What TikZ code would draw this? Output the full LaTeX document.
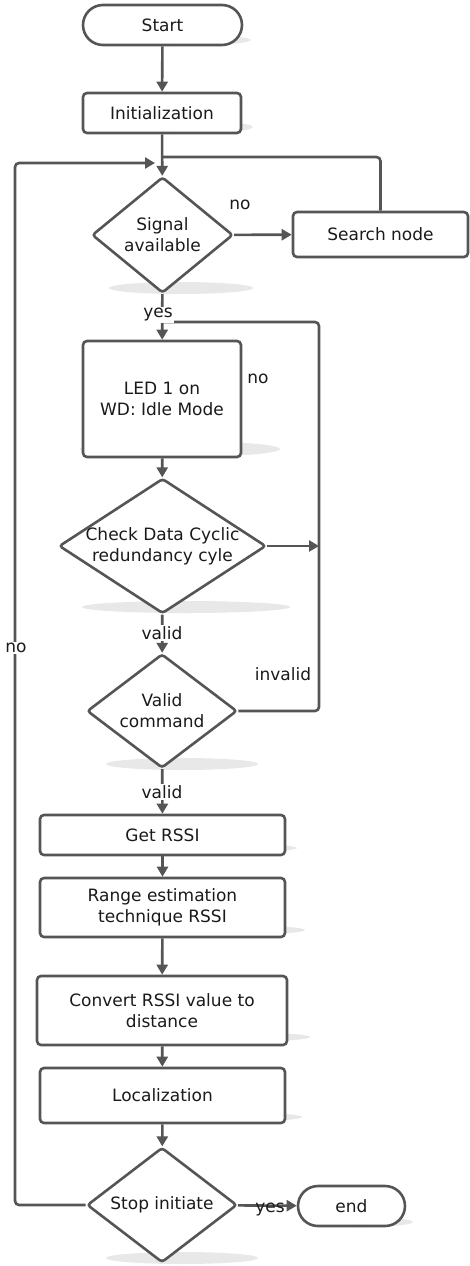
\documentclass[tikz,border=0pt]{standalone}
\usepackage{fontspec}
\setmainfont{DejaVu Sans}
\usetikzlibrary{shapes.geometric,arrows.meta}
\definecolor{ln}{HTML}{555555}
\definecolor{shd}{HTML}{E8E8E8}
\definecolor{txt}{HTML}{1A1A1A}
\begin{document}
\begin{tikzpicture}[x=1pt,y=-1pt,
  every node/.style={font=\fontsize{17}{21}\selectfont, text=txt},
  box/.style={draw=ln, line width=2.6pt, fill=white, rounded corners=4pt, inner sep=0pt, align=center},
  term/.style={draw=ln, line width=2.6pt, fill=white, rounded corners=20pt, inner sep=0pt, minimum height=40pt},
  dec/.style={draw=ln, line width=2.6pt, fill=white, diamond, rounded corners=3pt, inner sep=0pt},
  dtext/.style={align=center, inner sep=0pt},
  lbl/.style={fill=white, inner sep=1pt},
  conn/.style={draw=ln, line width=2.6pt, -{Triangle[length=10pt,width=11pt]}},
  plain/.style={draw=ln, line width=2.6pt, rounded corners=4pt}
]
\useasboundingbox (0,0) rectangle (470,1266);
% shadows
\fill[shd] (172,40) ellipse[x radius=79, y radius=6];
\fill[shd] (172,127) ellipse[x radius=81, y radius=7];
\fill[shd] (181,288) ellipse[x radius=72, y radius=6];
\fill[shd] (180,449) ellipse[x radius=100, y radius=8];
\fill[shd] (186,607) ellipse[x radius=104, y radius=6];
\fill[shd] (182,764) ellipse[x radius=76, y radius=6];
\fill[shd] (175,848) ellipse[x radius=122, y radius=6];
\fill[shd] (183,930) ellipse[x radius=122, y radius=6];
\fill[shd] (188,1037) ellipse[x radius=122, y radius=6];
\fill[shd] (180,1117) ellipse[x radius=122, y radius=6];
\fill[shd] (182,1258) ellipse[x radius=76, y radius=6];
\fill[shd] (360,1222) ellipse[x radius=53, y radius=5];
% nodes
\node[term, minimum width=159pt] (start) at (162.5,25) {Start};
\node[box, minimum width=158pt, minimum height=40pt] (init) at (162,113) {Initialization};
\node[dec, minimum width=141pt, minimum height=116pt] (sig) at (162.5,235) {};
\node[dtext] (sigt) at (sig.center) {Signal\\available};
\node[box, minimum width=175pt, minimum height=45pt] (search) at (380.5,234.5) {Search node};
\node[box, minimum width=158pt, minimum height=116pt] (led) at (162,399) {LED 1 on\\WD: Idle Mode};
\node[dec, minimum width=207pt, minimum height=135pt] (crc) at (162.5,546) {};
\node[dtext] (crct) at (crc.center) {Check Data Cyclic\\redundancy cyle};
\node[dec, minimum width=150pt, minimum height=114pt] (valid) at (162,711) {};
\node[dtext] (validt) at (valid.center) {Valid\\command};
\node[box, minimum width=245pt, minimum height=40pt] (get) at (162.5,835) {Get RSSI};
\node[box, minimum width=245pt, minimum height=59pt] (range) at (162.5,907.5) {Range estimation\\technique RSSI};
\node[box, minimum width=250pt, minimum height=69pt] (conv) at (162,1010.5) {Convert RSSI value to\\distance};
\node[box, minimum width=245pt, minimum height=55pt] (loc) at (162.5,1095.5) {Localization};
\node[dec, minimum width=150pt, minimum height=115pt] (stop) at (162,1205) {};
\node[dtext] (stopt) at (stop.center) {Stop initiate};
\node[term, minimum width=107pt] (end) at (351.5,1206) {end};
% junction coordinates
\coordinate (j1) at (162,157);
\coordinate (j2) at (155,163);
\coordinate (j3) at (162,322);
\coordinate (r1) at (319,322);
\coordinate (r2) at (319,546);
% connectors
\draw[conn] (start) -- (init);
\draw[conn] (init) -- (sig);
\draw[plain] (search.north) |- (j1);
\draw[conn] (sig) -- (search);
\draw[conn] (sig) -- (led);
\draw[plain] (valid.east) -| (r1) -- (j3);
\draw[conn] (crc.east) -- (r2);
\draw[conn] (led) -- (crc);
\draw[conn] (crc) -- (valid);
\draw[conn] (valid) -- (get);
\draw[conn] (get) -- (range);
\draw[conn] (range) -- (conv);
\draw[conn] (conv) -- (loc);
\draw[conn] (loc) -- (stop);
\draw[conn] (stop) -- (end);
\draw[conn, rounded corners=4pt] (stop.west) -| (15,400) |- (j2);
% labels
\node[lbl] (lno1) at (240,205) {no};
\node[lbl] (lyes1) at (158,315) {yes};
\node[lbl, fill=none] (lno2) at (258,379) {no};
\node[lbl] (lval1) at (162,633) {valid};
\node[lbl, fill=none] (linv) at (283,674) {invalid};
\node[lbl] (lno3) at (16,648) {no};
\node[lbl] (lval2) at (162,792) {valid};
\node[lbl, fill=none, inner sep=0pt] (lyes2) at (270,1209) {yes};
\end{tikzpicture}
\end{document}
